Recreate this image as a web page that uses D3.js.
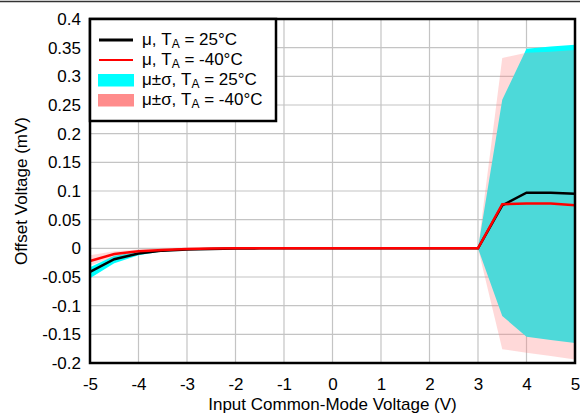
<!DOCTYPE html>
<html>
<head>
<meta charset="utf-8">
<script src="https://cdnjs.cloudflare.com/ajax/libs/d3/7.8.5/d3.min.js"></script>
<style>
  body { margin: 0; background: #fff; }
  svg { display: block; font-family: Arial, "Liberation Sans", sans-serif; }
</style>
</head>
<body>
<svg id="canvas"></svg>
<script>
// Data (mV vs V)
const vcm = [-5, -4.5, -4, -3.5, -3, -2.5, -2, -1.5, -1, -0.5, 0, 0.5, 1, 1.5, 2, 2.5, 3, 3.5, 4, 4.5, 5]
const mean25 = [-0.041, -0.019, -0.009, -0.004, -0.002, -0.001, -0.0005, 0, 0, 0, 0, 0, 0, 0, 0, 0, 0, 0.075, 0.097, 0.097, 0.095]
const mean40 = [-0.022, -0.010, -0.005, -0.003, -0.001, -0.0005, 0, 0, 0, 0, 0, 0, 0, 0, 0, 0, 0, 0.077, 0.078, 0.078, 0.075]
const hi25 = [-0.033, -0.013, -0.006, -0.002, -0.001, 0, 0, 0, 0, 0, 0, 0, 0, 0, 0, 0, 0, 0.259, 0.348, 0.352, 0.355]
const lo25 = [-0.052, -0.026, -0.012, -0.005, -0.002, -0.001, -0.001, 0, 0, 0, 0, 0, 0, 0, 0, 0, 0, -0.118, -0.154, -0.160, -0.165]
const hi40 = [-0.012, -0.005, -0.002, 0, 0.001, 0.001, 0.001, 0.001, 0.001, 0.001, 0.001, 0.001, 0.001, 0.001, 0.001, 0.001, 0, 0.332, 0.341, 0.343, 0.346]
const lo40 = [-0.030, -0.015, -0.008, -0.005, -0.003, -0.002, -0.001, -0.001, -0.001, -0.001, -0.001, -0.001, -0.001, -0.001, -0.001, -0.001, 0, -0.176, -0.182, -0.188, -0.194]

const xTicks = [-5, -4, -3, -2, -1, 0, 1, 2, 3, 4, 5]
const yTicks = [-0.2, -0.15, -0.1, -0.05, 0, 0.05, 0.1, 0.15, 0.2, 0.25, 0.3, 0.35, 0.4]

const legendItems = [
  { label: 'μ, T', sub: 'A', rest: ' = 25°C', kind: 'line', color: '#000000', w: 3 },
  { label: 'μ, T', sub: 'A', rest: ' = -40°C', kind: 'line', color: '#ff0000', w: 2.2 },
  { label: 'μ±σ, T', sub: 'A', rest: ' = 25°C', kind: 'box', color: '#00ffff' },
  { label: 'μ±σ, T', sub: 'A', rest: ' = -40°C', kind: 'box', color: '#ff8c8c' }
]

const width = 580
const height = 415
const plotL = 90, plotR = 575, plotT = 19, plotB = 363
const fontSize = 17

let svg = d3.select('#canvas')
  .attr('width', width)
  .attr('height', height)

// top rule
svg.append('line')
  .attr('x1', 0).attr('x2', width)
  .attr('y1', 1.5).attr('y2', 1.5)
  .attr('stroke', '#333').attr('stroke-width', 1.5)

let xScale = d3.scaleLinear().domain([-5, 5]).range([plotL, plotR])
let yScale = d3.scaleLinear().domain([-0.2, 0.4]).range([plotB, plotT])

// grid
let grid = svg.append('g')
grid.selectAll('.vg')
  .data(xTicks)
  .enter()
  .append('line')
  .attr('x1', d => xScale(d)).attr('x2', d => xScale(d))
  .attr('y1', plotT).attr('y2', plotB)
  .attr('stroke', '#c4c4c4').attr('stroke-width', 1.2)
grid.selectAll('.hg')
  .data(yTicks)
  .enter()
  .append('line')
  .attr('x1', plotL).attr('x2', plotR)
  .attr('y1', d => yScale(d)).attr('y2', d => yScale(d))
  .attr('stroke', '#c4c4c4').attr('stroke-width', 1.2)

// bands
let band = (hi, lo) => d3.area()
  .x((d, i) => xScale(vcm[i]))
  .y0((d, i) => yScale(lo[i]))
  .y1((d, i) => yScale(hi[i]))(vcm)

svg.append('path')
  .attr('d', band(hi25, lo25))
  .attr('fill', '#00ffff')
svg.append('path')
  .attr('d', band(hi40, lo40))
  .attr('fill', '#ff8080')
  .attr('fill-opacity', 0.3)

// mean lines
let line = d3.line()
  .x((d, i) => xScale(vcm[i]))
  .y(d => yScale(d))

svg.append('path')
  .attr('d', line(mean25))
  .attr('fill', 'none')
  .attr('stroke', '#000').attr('stroke-width', 2.5)
svg.append('path')
  .attr('d', line(mean40))
  .attr('fill', 'none')
  .attr('stroke', '#ff0000').attr('stroke-width', 2.5)

// frame
svg.append('rect')
  .attr('x', plotL).attr('y', plotT)
  .attr('width', plotR - plotL).attr('height', plotB - plotT)
  .attr('fill', 'none').attr('stroke', '#000').attr('stroke-width', 2.5)

// plain hyphen minus like the original
let fmt = d => d3.format('~g')(+(+d).toFixed(2)).replace('−', '-')

// axes (labels only)
let xAxis = d3.axisBottom(xScale)
  .tickValues(xTicks)
  .tickSize(0)
  .tickPadding(15)
  .tickFormat(fmt)
let gx = svg.append('g')
  .attr('transform', 'translate(0,' + plotB + ')')
  .call(xAxis)
gx.select('.domain').remove()
gx.selectAll('text').attr('font-size', fontSize).attr('fill', '#000').attr('font-family', 'Arial, "Liberation Sans", sans-serif')

let yAxis = d3.axisLeft(yScale)
  .tickValues(yTicks)
  .tickSize(0)
  .tickPadding(9)
  .tickFormat(fmt)
let gy = svg.append('g')
  .attr('transform', 'translate(' + plotL + ',0)')
  .call(yAxis)
gy.select('.domain').remove()
gy.selectAll('text').attr('font-size', fontSize).attr('fill', '#000').attr('font-family', 'Arial, "Liberation Sans", sans-serif')

// axis titles
svg.append('text')
  .attr('x', (plotL + plotR) / 2).attr('y', 410)
  .attr('text-anchor', 'middle')
  .attr('font-size', fontSize)
  .text('Input Common-Mode Voltage (V)')
svg.append('text')
  .attr('transform', 'translate(27,' + (plotT + plotB) / 2 + ') rotate(-90)')
  .attr('text-anchor', 'middle')
  .attr('font-size', fontSize)
  .text('Offset Voltage (mV)')

// legend
let lg = svg.append('g')
lg.append('rect')
  .attr('x', plotL).attr('y', plotT)
  .attr('width', 186).attr('height', 102)
  .attr('fill', '#fff').attr('stroke', '#000').attr('stroke-width', 2.5)

legendItems.forEach((d, i) => {
  let cy = 40 + i * 20
  if (d.kind === 'line') {
    lg.append('line')
      .attr('x1', 99).attr('x2', 133)
      .attr('y1', cy).attr('y2', cy)
      .attr('stroke', d.color).attr('stroke-width', d.w)
  } else {
    lg.append('rect')
      .attr('x', 98).attr('y', cy - 6)
      .attr('width', 36).attr('height', 12.5)
      .attr('fill', d.color)
  }
  let t = lg.append('text')
    .attr('x', 142).attr('y', cy + 5)
    .attr('font-size', fontSize)
  t.append('tspan').text(d.label)
  t.append('tspan').attr('font-size', 12).attr('dy', 3).text(d.sub)
  t.append('tspan').attr('dy', -3).text(d.rest)
})
</script>
</body>
</html>
